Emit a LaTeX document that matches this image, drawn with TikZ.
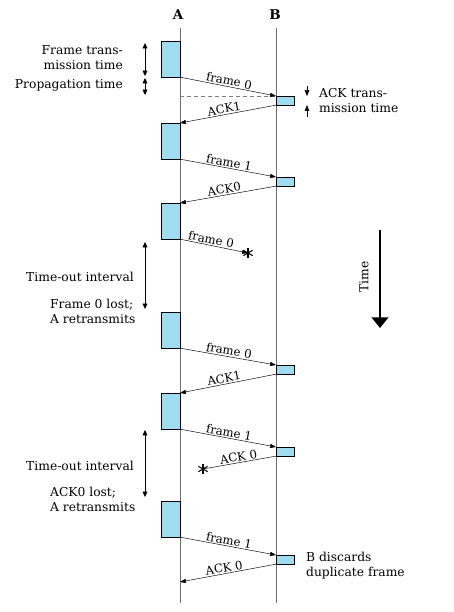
\documentclass[tikz,border=0pt]{standalone}
\usepackage{fontspec}
\setmainfont{DejaVu Serif}
\usetikzlibrary{arrows.meta}
\definecolor{boxblue}{RGB}{160,220,240}
\definecolor{lifegray}{RGB}{110,110,110}

\begin{document}
\begin{tikzpicture}[x=0.03cm, y=-0.03cm, font=\fontsize{10.5}{12.8}\selectfont,
  abox/.style={draw, fill=boxblue, minimum width=0.57cm, minimum height=1.07cm, inner sep=0pt, anchor=north east},
  bbox/.style={draw, fill=boxblue, minimum width=0.54cm, minimum height=0.26cm, inner sep=0pt, anchor=north west},
  msg/.style={-{Triangle[length=5pt,width=3.5pt]}},
  ack/.style={{Triangle[length=5pt,width=3.5pt]}-},
  tick/.style={-{Triangle[length=5pt,width=4pt]}},
  span/.style={{Triangle[length=4.5pt,width=4pt]}-{Triangle[length=4.5pt,width=4pt]}},
  lbl/.style={sloped, above, inner sep=1pt, font=\fontsize{10}{12}\selectfont},
  station/.style={font=\fontsize{11.5}{12}\selectfont\bfseries},
  lost/.style={minimum size=10pt, inner sep=0pt,
    path picture={\foreach \a in {90,30,150}
      \draw[line width=0.9pt] (path picture bounding box.center) ++(\a:4.5pt) -- ++(\a+180:9pt);}}]

\useasboundingbox (0,0) rectangle (454,612);

% Stations
\node[station] (labA) at (178,15) {A};
\node[station] (labB) at (275,15) {B};
\coordinate (topA) at (180,28);
\coordinate (endA) at (180,603);
\coordinate (topB) at (276,28);
\coordinate (endB) at (276,603);
\draw[lifegray] (topA) -- (endA);
\draw[lifegray] (topB) -- (endB);

% Frames sent by A
\node[abox] (a1) at (180,41) {};
\node[abox] (a2) at (180,123) {};
\node[abox] (a3) at (180,203) {};
\node[abox] (a4) at (180,312) {};
\node[abox] (a5) at (180,393) {};
\node[abox] (a6) at (180,501) {};

% ACKs sent by B
\node[bbox] (b1) at (276,96) {};
\node[bbox] (b2) at (276,177) {};
\node[bbox] (b3) at (276,365) {};
\node[bbox] (b4) at (276,447) {};
\node[bbox] (b5) at (276,555) {};

% Lost messages
\node[lost] (lost1) at (248,253) {};
\node[lost] (lost2) at (203,469) {};

% Messages
\coordinate (dashA) at (180,96);
\draw[dashed, gray] (dashA) -- (b1.north west);
\draw[msg] (a1.south east) -- node[lbl, pos=0.5] {frame 0} (b1.north west);
\draw[ack] (a2.north east) -- node[lbl, pos=0.47] {ACK1} (b1.south west);
\draw[msg] (a2.south east) -- node[lbl, pos=0.5] {frame 1} (b2.north west);
\draw[ack] (a3.north east) -- node[lbl, pos=0.47] {ACK0} (b2.south west);
\draw[msg] (a3.south east) -- node[lbl, pos=0.44] {frame 0} (lost1.center);
\draw[msg] (a4.south east) -- node[lbl, pos=0.5] {frame 0} (b3.north west);
\draw[ack] (a5.north east) -- node[lbl, pos=0.47] {ACK1} (b3.south west);
\draw[msg] (a5.south east) -- node[lbl, pos=0.5] {frame 1} (b4.north west);
\draw (lost2.center) -- node[lbl, pos=0.5] {ACK 0} (b4.south west);
\draw[msg] (a6.south east) -- node[lbl, pos=0.5] {frame 1} (b5.north west);
\draw[ack] (a6.north east |- 0,582) coordinate (ackend) -- node[lbl, pos=0.47] {ACK 0} (b5.south west);

% Left annotations
\coordinate (ft1) at (145,43);
\coordinate (ft2) at (145,76);
\coordinate (pt1) at (145,78);
\coordinate (pt2) at (145,95);
\draw[span] (ft1) -- (ft2);
\draw[span] (pt1) -- (pt2);
\node[align=right, anchor=east] (ftime) at (127,58) {Frame trans-\\mission time};
\node[anchor=east] (ptime) at (127,85) {Propagation time};

\coordinate (to1) at (145,242);
\coordinate (to2) at (145,309);
\coordinate (to3) at (145,430);
\coordinate (to4) at (145,497);
\draw[span] (to1) -- (to2);
\draw[span] (to3) -- (to4);
\node (tout1) at (80,277) {Time-out interval};
\node[align=left, anchor=west] (lost1txt) at (46,311) {Frame 0 lost;\\A retransmits};
\node (tout2) at (80,466) {Time-out interval};
\node[align=left, anchor=west] (lost2txt) at (46,499) {ACK0 lost;\\A retransmits};

% Right annotations
\coordinate (at1) at (307,86);
\coordinate (at2) at (307,117);
\draw[tick] (at1) -- (b1.north east -| at1);
\draw[tick] (at2) -- (b1.south east -| at2);
\node[align=left, anchor=west] (acktime) at (315,101) {ACK trans-\\mission time};
\node[align=left, anchor=west] (discard) at (302,566) {B discards\\duplicate frame};

% Time arrow
\coordinate (time1) at (380,230);
\coordinate (time2) at (380,328);
\draw[line width=2.2pt, -{Triangle[length=9pt,width=14pt]}] (time1) -- (time2);
\node[rotate=90] (timelbl) at (364,277) {Time};

\end{tikzpicture}
\end{document}
